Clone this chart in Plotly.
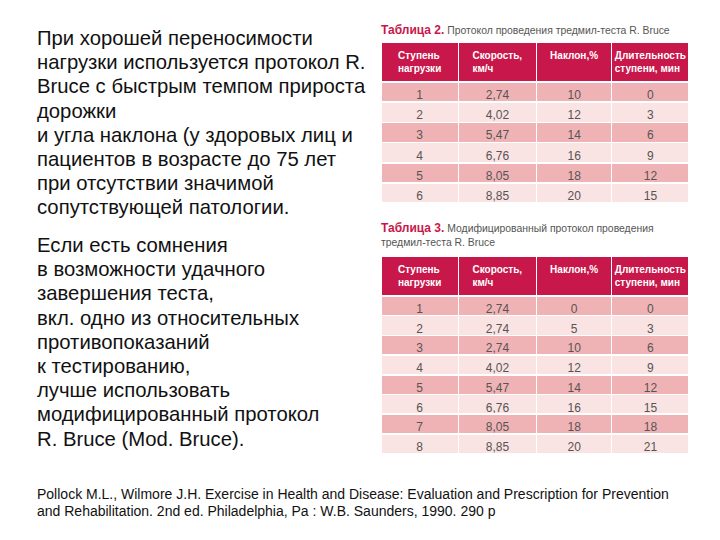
import plotly.graph_objects as go

W, H = 720, 540

para1 = [
    "При хорошей переносимости",
    "нагрузки используется протокол R.",
    "Bruce с быстрым темпом прироста",
    "дорожки",
    "и угла наклона (у здоровых лиц и",
    "пациентов в возрасте до 75 лет",
    "при отсутствии значимой",
    "сопутствующей патологии.",
]
para2 = [
    "Если есть сомнения",
    "в возможности удачного",
    "завершения теста,",
    "вкл. одно из относительных",
    "противопоказаний",
    "к тестированию,",
    "лучше использовать",
    "модифицированный протокол",
    "R. Bruce (Mod. Bruce).",
]
citation = [
    "Pollock M.L., Wilmore J.H. Exercise in Health and Disease: Evaluation and Prescription for Prevention",
    "and Rehabilitation. 2nd ed. Philadelphia, Pa : W.B. Saunders, 1990. 290 p",
]

headers = ["Ступень<br>нагрузки", "Скорость,<br>км/ч", "Наклон,%", "Длительность<br>ступени, мин"]

t2_stage = ["1", "2", "3", "4", "5", "6"]
t2_speed = ["2,74", "4,02", "5,47", "6,76", "8,05", "8,85"]
t2_incline = ["10", "12", "14", "16", "18", "20"]
t2_duration = ["0", "3", "6", "9", "12", "15"]

t3_stage = ["1", "2", "3", "4", "5", "6", "7", "8"]
t3_speed = ["2,74", "2,74", "2,74", "4,02", "5,47", "6,76", "8,05", "8,85"]
t3_incline = ["0", "5", "10", "12", "14", "16", "18", "20"]
t3_duration = ["0", "3", "6", "9", "12", "15", "18", "21"]

t2_title = ("Таблица 2.", "Протокол проведения тредмил-теста R. Bruce")
t3_title = ("Таблица 3.", "Модифицированный протокол проведения", "тредмил-теста R. Bruce")

CRIMSON = "#c8174a"
DARK_ROW = "#f0b3b5"
LIGHT_ROW = "#fae3e3"
TXT = "#555555"
SANS = "Liberation Sans, Arial"

fig = go.Figure()


def add_table(cols, top_px, bottom_px, head_h, row_h):
    n = len(cols[0])
    fills = [[DARK_ROW if i % 2 == 0 else LIGHT_ROW for i in range(n)] for _ in cols]
    fig.add_trace(go.Table(
        domain=dict(x=[381 / W, 689 / W], y=[1 - bottom_px / H, 1 - top_px / H]),
        columnwidth=[77, 78, 75, 77],
        header=dict(
            values=[f"<b>{h}</b>" for h in headers],
            fill_color=CRIMSON,
            line=dict(color="white", width=1.5),
            font=dict(family=SANS, size=10, color="white"),
            align="center",
            height=head_h,
        ),
        cells=dict(
            values=cols,
            fill_color=fills,
            line=dict(color="white", width=1.5),
            font=dict(family=SANS, size=12, color=TXT),
            align="center",
            height=row_h,
        ),
    ))


add_table([t2_stage, t2_speed, t2_incline, t2_duration], 42, 210, 36, 20.2)
add_table([t3_stage, t3_speed, t3_incline, t3_duration], 256, 460, 34.5, 19.7)

ann = []


def line(text, x, y, size, color="#111111", family=SANS):
    ann.append(dict(text=text, x=x / W, y=1 - y / H, xref="paper", yref="paper",
                    xanchor="left", yanchor="middle", showarrow=False,
                    font=dict(family=family, size=size, color=color)))


for i, t in enumerate(para1):
    line(t, 35, 38 + i * 24.2, 20.3)
for i, t in enumerate(para2):
    line(t, 35, 245 + i * 24.2, 20.3)
for i, t in enumerate(citation):
    line(t, 35, 494 + i * 16.5, 14)

line(f"<b><span style='color:{CRIMSON};font-size:12px'>{t2_title[0]}</span></b> {t2_title[1]}", 379, 30, 10.4, TXT)
line(f"<b><span style='color:{CRIMSON};font-size:12px'>{t3_title[0]}</span></b> {t3_title[1]}", 379, 228, 10.4, TXT)
line(t3_title[2], 379, 242, 10.4, TXT)

fig.update_layout(
    width=W, height=H,
    margin=dict(l=0, r=0, t=0, b=0),
    paper_bgcolor="white",
    plot_bgcolor="white",
    annotations=ann,
    showlegend=False,
)

fig.write_html("out.html", config={"displayModeBar": False},
               post_script="document.body.style.margin='0';document.body.style.padding='0';")
